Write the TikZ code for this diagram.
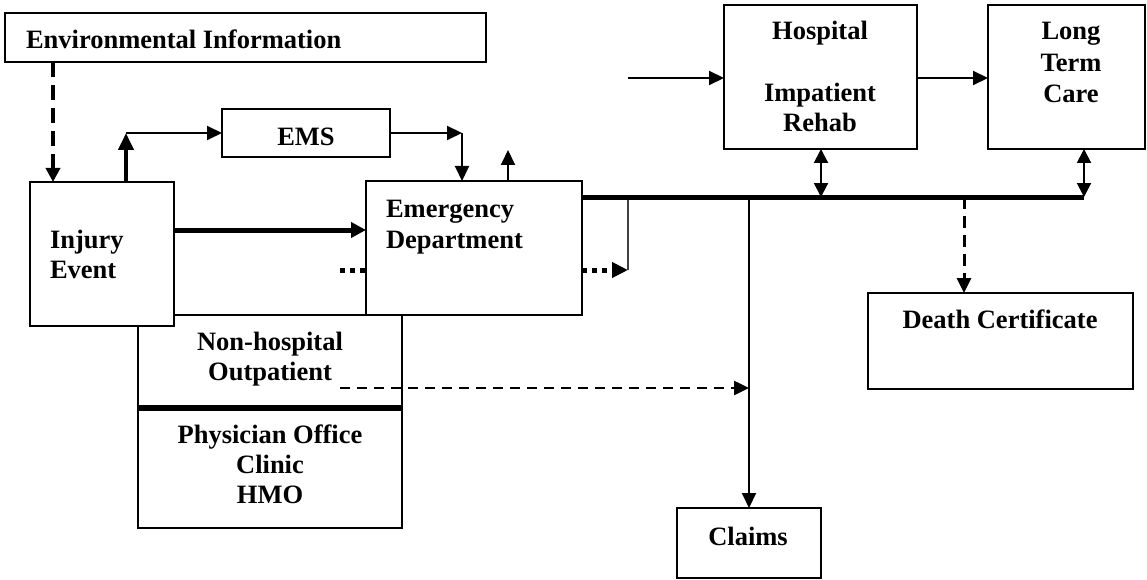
\documentclass[tikz,border=0pt]{standalone}
\usepackage{fontspec}
\setmainfont{Liberation Serif}
\usetikzlibrary{arrows.meta}
\begin{document}
\begin{tikzpicture}[x=1pt,y=-1pt,
  box/.style={draw,line width=2pt,fill=white,inner sep=0pt,outer sep=0pt,anchor=north west},
  lbl/.style={inner sep=0pt,outer sep=0pt,font=\fontsize{26.5}{31}\selectfont\bfseries},
  tip/.style={-{Triangle[length=15pt,width=14pt]}},
  dbltip/.style={{Triangle[length=14pt,width=14pt]}-{Triangle[length=14pt,width=14pt]}},
  thinline/.style={line width=2pt},
  upline/.style={line width=4pt},
  heavyline/.style={line width=5pt},
  dotline/.style={line width=5pt,dash pattern=on 5pt off 5pt},
  hairline/.style={line width=1.5pt,black!75},
  busline/.style={line width=5pt},
  envdash/.style={line width=4pt,dash pattern=on 15pt off 8pt},
  dcdash/.style={line width=3pt,dash pattern=on 12pt off 7pt},
  outdash/.style={line width=2.5pt,dash pattern=on 10pt off 7pt},
  sepline/.style={line width=6pt}
]
\useasboundingbox (0,0) rectangle (1147,580);
\fill[white] (0,0) rectangle (1147,580);

% boxes
\node[box,minimum width=481pt,minimum height=49pt] (env) at (5,13) {};
\node[box,minimum width=168pt,minimum height=48pt] (ems) at (222,109) {};
\node[box,minimum width=264pt,minimum height=213pt] (nonhosp) at (138,315) {};
\node[box,minimum width=144pt,minimum height=144pt] (inj) at (30,182) {};
\node[box,minimum width=216pt,minimum height=134pt] (ed) at (366,181) {};
\node[box,minimum width=193pt,minimum height=144pt] (hosp) at (724,5) {};
\node[box,minimum width=157pt,minimum height=144pt] (ltc) at (988,5) {};
\node[box,minimum width=265pt,minimum height=96pt] (dc) at (868,293) {};
\node[box,minimum width=144pt,minimum height=70pt] (claims) at (677,508) {};

% texts
\node[lbl,anchor=base west] (tenv) at (26,49) {Environmental Information};
\node[lbl,anchor=base] (tems) at (306,146) {EMS};
\node[lbl,anchor=base west] (tinj1) at (50,248) {Injury};
\node[lbl,anchor=base west] (tinj2) at (50,278) {Event};
\node[lbl,anchor=base west] (ted1) at (386,217) {Emergency};
\node[lbl,anchor=base west] (ted2) at (386,248) {Department};
\node[lbl,anchor=base] (tnh1) at (270,350) {Non-hospital};
\node[lbl,anchor=base] (tnh2) at (270,380) {Outpatient};
\node[lbl,anchor=base] (tph1) at (270,443) {Physician Office};
\node[lbl,anchor=base] (tph2) at (270,473) {Clinic};
\node[lbl,anchor=base] (tph3) at (270,503) {HMO};
\node[lbl,anchor=base] (th1) at (820,40) {Hospital};
\node[lbl,anchor=base] (th2) at (820,102) {Impatient};
\node[lbl,anchor=base] (th3) at (820,132) {Rehab};
\node[lbl,anchor=base] (tl1) at (1071,40) {Long};
\node[lbl,anchor=base] (tl2) at (1071,72) {Term};
\node[lbl,anchor=base] (tl3) at (1071,103) {Care};
\node[lbl,anchor=base] (tdc) at (1000,328) {Death Certificate};
\node[lbl,anchor=base] (tcl) at (748,545) {Claims};

% helper coordinates
\coordinate (x53) at (53,0);
\coordinate (upc) at (126,133);
\coordinate (emsc) at (462,133);
\coordinate (edup) at (508,150);
\coordinate (y230) at (0,230);
\coordinate (dotL) at (340,270);
\coordinate (dotR) at (628,270);
\path (ed.north east) ++(0,16) coordinate (busW);
\coordinate (busE) at (1084,197);
\coordinate (hb) at (821,197);
\coordinate (hin) at (628,78);
\coordinate (dcx) at (964,197);
\coordinate (outp) at (340,388);
\coordinate (sep) at (0,408);

% separator inside outpatient box
\draw[sepline] (nonhosp.west |- sep) -- (nonhosp.east |- sep);

% connectors
\draw[envdash,-{Triangle[length=14pt,width=14pt]}] (env.south -| x53) -- (inj.north -| x53);
\draw[upline,-{Triangle[length=17pt,width=15pt]}] (inj.north -| upc) -- (upc);
\draw[thinline,tip] (upc) -- (ems.west);
\draw[thinline,tip] (ems.east) -- (emsc);
\draw[thinline,tip] (emsc) -- (ed.north -| emsc);
\draw[thinline,tip] (ed.north -| edup) -- (edup);
\draw[heavyline,-{Triangle[length=15pt,width=15pt]}] (inj.east |- y230) -- (ed.west |- y230);
\draw[dotline] (dotL) -- (ed.west |- dotL);
\draw[dotline,-{Triangle[length=16pt,width=15pt]}] (ed.east |- dotR) -- (dotR);
\draw[hairline] (dotR) -- (dotR |- busW);
\draw[busline] (busW) -- (busE);
\draw[thinline,dbltip] (hosp.south -| hb) -- (hb);
\draw[thinline,dbltip] (ltc.south -| busE) -- (busE);
\draw[thinline,tip] (hin) -- (hosp.west |- hin);
\draw[thinline,tip] (hosp.east |- hin) -- (ltc.west |- hin);
\draw[thinline,tip] (claims.north |- busW) -- (claims.north);
\draw[dcdash,tip] (dcx) -- (dc.north -| dcx);
\draw[outdash,tip] (outp) -- (claims.north |- outp);
\end{tikzpicture}
\end{document}
